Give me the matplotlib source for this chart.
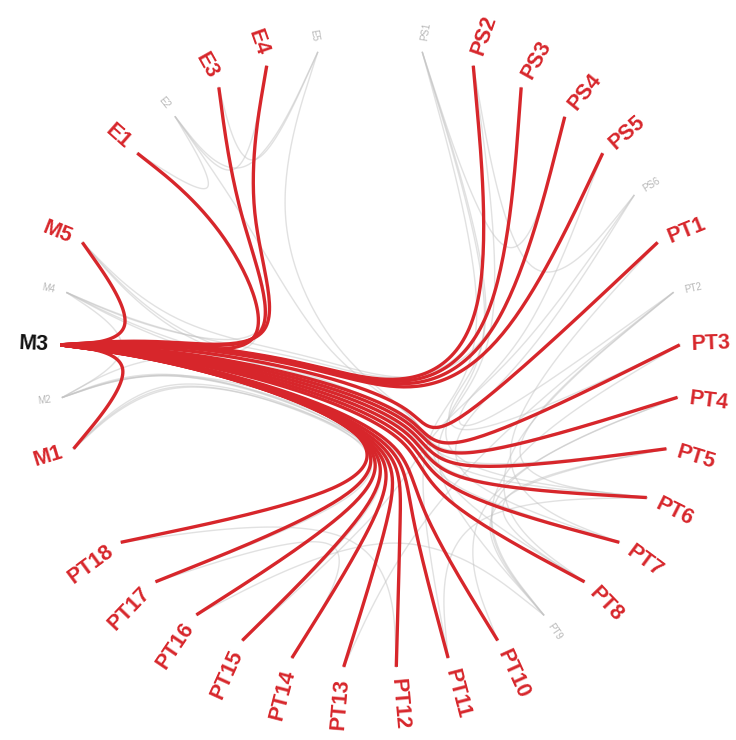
import numpy as np
import matplotlib
matplotlib.use("Agg")
import matplotlib.pyplot as plt

# nodes in circular order (clockwise from top); None = gap between groups
order = [None,
         "PS1", "PS2", "PS3", "PS4", "PS5", "PS6",
         "PT1", "PT2", "PT3", "PT4", "PT5", "PT6", "PT7", "PT8", "PT9",
         "PT10", "PT11", "PT12", "PT13", "PT14", "PT15", "PT16", "PT17", "PT18",
         None,
         "M1", "M2", "M3", "M4", "M5",
         None,
         "E1", "E2", "E3", "E4", "E5"]

focus = "M3"
focus_links = ["M5", "M1", "E1", "E3", "E4", "PS2", "PS3", "PS4", "PS5",
               "PT1", "PT3", "PT4", "PT5", "PT6", "PT7", "PT8",
               "PT10", "PT11", "PT12", "PT13", "PT14", "PT15", "PT16", "PT17", "PT18"]

other_links = [("M4", "PT4"), ("M4", "PT6"), ("M4", "E3"), ("M4", "PS3"), ("M4", "M2"),
               ("M5", "PT5"), ("M5", "PT7"), ("M5", "PS4"),
               ("M2", "PT14"), ("M2", "PT16"), ("M2", "PT10"), ("M2", "PT12"), ("M2", "E1"),
               ("M1", "PT17"), ("M1", "PT13"), ("M1", "PT15"),
               ("E2", "E4"), ("E2", "E5"), ("E1", "E2"), ("E5", "E3"), ("E5", "PT8"), ("E2", "PT6"),
               ("PS1", "PT6"), ("PS1", "PT11"), ("PS1", "PS4"), ("PS1", "PT3"),
               ("PS6", "PT7"), ("PS6", "PT15"), ("PS6", "PS2"),
               ("PT2", "PT8"), ("PT2", "PT13"), ("PT2", "PS5"), ("PT2", "PT6"),
               ("PT9", "PT5"), ("PT9", "PT16"), ("PT9", "PS2"), ("PT9", "PT4"),
               ("PT1", "PT7"), ("PT3", "PT9"), ("PT5", "PT8"), ("PT4", "PT10"), ("PT6", "PT11"),
               ("PT18", "PT12"), ("PT17", "PT14")]

grey_nodes = ["M4", "M2", "E2", "E5", "PS1", "PS6", "PT2", "PT9"]

# hierarchy (bundling control points)
parent = {"M": "root", "E": "root", "P": "root", "PS": "P", "PT": "P"}
tree_pos = {"root": (-0.16, -0.08), "M": (-0.66, 0.03), "E": (-0.40, 0.42),
            "P": (0.18, -0.24), "PS": (0.47, -0.04), "PT": (0.14, -0.42)}


def group_of(name):
    if name.startswith("PS"):
        return "PS"
    if name.startswith("PT"):
        return "PT"
    return name[0]


n = len(order)
ang = {}
for i, name in enumerate(order):
    if name:
        ang[name] = np.deg2rad(90 - i * 360.0 / n)
leaf_pos = {k: (np.cos(a), np.sin(a)) for k, a in ang.items()}


def ancestors(name):
    chain = [group_of(name)]
    while chain[-1] != "root":
        chain.append(parent[chain[-1]])
    return chain


def path(a, b):
    ca, cb = ancestors(a), ancestors(b)
    common = [x for x in ca if x in cb][0]
    up = ca[:ca.index(common) + 1]
    down = cb[:cb.index(common)][::-1]
    pts = [leaf_pos[a]] + [tree_pos[x] for x in up + down] + [leaf_pos[b]]
    return np.array(pts)


def bspline(ctrl, beta=0.85, m=120):
    p0, pn = ctrl[0], ctrl[-1]
    k = len(ctrl) - 1
    t = np.arange(k + 1) / k
    ctrl = beta * ctrl + (1 - beta) * (p0 + np.outer(t, pn - p0))
    q = np.vstack([ctrl[0], ctrl[0], ctrl, ctrl[-1], ctrl[-1]])
    out = []
    for i in range(len(q) - 3):
        u = np.linspace(0, 1, m // 4)[:, None]
        b0 = (1 - u) ** 3 / 6
        b1 = (3 * u ** 3 - 6 * u ** 2 + 4) / 6
        b2 = (-3 * u ** 3 + 3 * u ** 2 + 3 * u + 1) / 6
        b3 = u ** 3 / 6
        out.append(b0 * q[i] + b1 * q[i + 1] + b2 * q[i + 2] + b3 * q[i + 3])
    return np.vstack(out)


red = "#d7262b"
fig = plt.figure(figsize=(7.36, 7.40), dpi=100)
ax = fig.add_axes([0, 0, 1, 1])
ax.set_xlim(-370 / 310, 366 / 310)
ax.set_ylim(-382 / 310, 358 / 310)
ax.set_aspect("equal")
ax.axis("off")

for a, b in other_links:
    c = bspline(path(a, b))
    ax.plot(c[:, 0], c[:, 1], color="#c4c4c4", lw=1.0, alpha=0.5, zorder=1)

for b in focus_links:
    c = bspline(path(focus, b))
    ax.plot(c[:, 0], c[:, 1], color=red, lw=2.4, solid_capstyle="butt", zorder=3)

for name, a in ang.items():
    deg = np.rad2deg(a)
    r = 1.038
    x, y = r * np.cos(a), r * np.sin(a)
    if np.cos(a) >= 0:
        rot, ha = deg, "left"
    else:
        rot, ha = deg - 180, "right"
    if name == focus:
        kw = dict(color="#111111", fontsize=15.5, fontweight="bold")
    elif name in grey_nodes:
        kw = dict(color="#b8b8b8", fontsize=7)
    else:
        kw = dict(color=red, fontsize=15.5, fontweight="bold")
    ax.text(x, y, name, rotation=rot, rotation_mode="anchor", ha=ha, va="center",
            family="Liberation Sans", **kw)

fig.savefig("out.png", dpi=100)
